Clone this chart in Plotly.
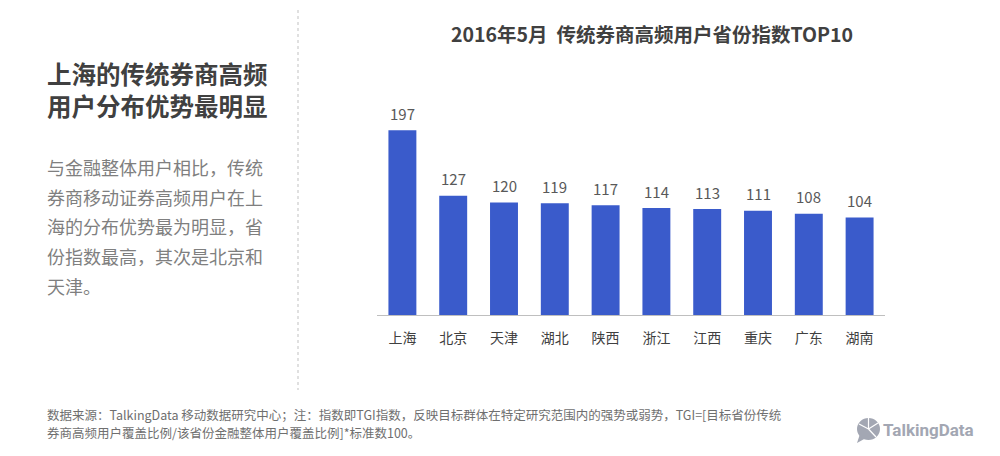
import plotly.graph_objects as go

provinces = ["上海", "北京", "天津", "湖北", "陕西", "浙江", "江西", "重庆", "广东", "湖南"]
tgi_index = [197, 127, 120, 119, 117, 114, 113, 111, 108, 104]

chart_title = "2016年5月  传统券商高频用户省份指数TOP10"
left_title_lines = ["上海的传统券商高频", "用户分布优势最明显"]
body_lines = ["与金融整体用户相比，传统", "券商移动证券高频用户在上", "海的分布优势最为明显，省",
              "份指数最高，其次是北京和", "天津。"]
footer_lines = ["数据来源：TalkingData 移动数据研究中心；注：指数即TGI指数，反映目标群体在特定研究范围内的强势或弱势，TGI=[目标省份传统",
                "券商高频用户覆盖比例/该省份金融整体用户覆盖比例]*标准数100。"]

W, H = 1000, 456
CJK = "Noto Sans CJK SC, sans-serif"

def px(x):
    return x / W

def py(y):
    return 1 - y / H

fig = go.Figure()
fig.add_trace(go.Bar(
    x=provinces, y=tgi_index,
    marker=dict(color="#3a5bcb", line=dict(width=0)),
    hoverinfo="x+y",
))

annotations = []
for p, v in zip(provinces, tgi_index):
    annotations.append(dict(text=str(v), x=p, y=v, xref="x", yref="y", showarrow=False,
                            xanchor="center", yanchor="middle", yshift=17,
                            font=dict(family=CJK, size=15, color="#595959")))
annotations.append(dict(text=f"<b>{chart_title}</b>", x=px(652), y=py(33), xref="paper", yref="paper",
                        showarrow=False, xanchor="center", yanchor="middle",
                        font=dict(family=CJK, size=19.5, color="#404040")))
annotations.append(dict(text="<br>".join(f"<b>{l}</b>" for l in left_title_lines),
                        x=px(45), y=py(89), xref="paper", yref="paper", align="left",
                        showarrow=False, xanchor="left", yanchor="middle",
                        font=dict(family=CJK, size=24.5, color="#404040")))
for i, line in enumerate(body_lines):
    annotations.append(dict(text=line, x=px(45), y=py(167 + i * 29.7), xref="paper", yref="paper",
                            showarrow=False, xanchor="left", yanchor="middle",
                            font=dict(family=CJK, size=18, color="#7f7f7f")))
for i, line in enumerate(footer_lines):
    annotations.append(dict(text=line, x=px(45), y=py(414 + i * 18), xref="paper", yref="paper",
                            showarrow=False, xanchor="left", yanchor="middle",
                            font=dict(family=CJK, size=12.5, color="#6f6f6f")))
annotations.append(dict(text="<b>TalkingData</b>", x=px(881), y=py(430), xref="paper", yref="paper",
                        showarrow=False, xanchor="left", yanchor="middle",
                        font=dict(family="Roboto, sans-serif", size=17, color="#a3a7b3")))

shapes = [
    dict(type="line", xref="paper", yref="paper", x0=px(298), x1=px(298), y0=py(10), y1=py(390),
         line=dict(color="#cccccc", width=1.2, dash="dot")),
    dict(type="circle", xref="paper", yref="paper", x0=px(857), x1=px(880), y0=py(440), y1=py(418),
         fillcolor="#a3a7b3", line=dict(width=0)),
    dict(type="path", xref="paper", yref="paper",
         path=f"M {px(860)} {py(434)} L {px(857)} {py(443)} L {px(866)} {py(438)} Z",
         fillcolor="#a3a7b3", line=dict(width=0)),
    dict(type="line", xref="paper", yref="paper", x0=px(868.5), x1=px(868.5), y0=py(429), y1=py(418),
         line=dict(color="white", width=1.2)),
    dict(type="line", xref="paper", yref="paper", x0=px(868.5), x1=px(878), y0=py(429), y1=py(423),
         line=dict(color="white", width=1.2)),
    dict(type="line", xref="paper", yref="paper", x0=px(868.5), x1=px(859), y0=py(429), y1=py(424),
         line=dict(color="white", width=1.2)),
    dict(type="line", xref="paper", yref="paper", x0=px(868.5), x1=px(876), y0=py(429), y1=py(437),
         line=dict(color="white", width=1.2)),
]

fig.update_layout(
    width=W, height=H,
    margin=dict(l=0, r=0, t=0, b=0),
    paper_bgcolor="white", plot_bgcolor="white",
    showlegend=False,
    bargap=0.45,
    xaxis=dict(domain=[px(377), px(885)], showline=True, linecolor="#bfbfbf", linewidth=1.2,
               ticks="", showgrid=False, ticklabelstandoff=10,
               tickfont=dict(family=CJK, size=14, color="#404040")),
    yaxis=dict(domain=[py(315), py(118)], range=[0, 210], visible=False, showgrid=False),
    annotations=annotations,
    shapes=shapes,
)

fig.write_html("out.html", config={"displayModeBar": False},
               post_script="document.body.style.margin='0';document.body.style.overflow='hidden';")
